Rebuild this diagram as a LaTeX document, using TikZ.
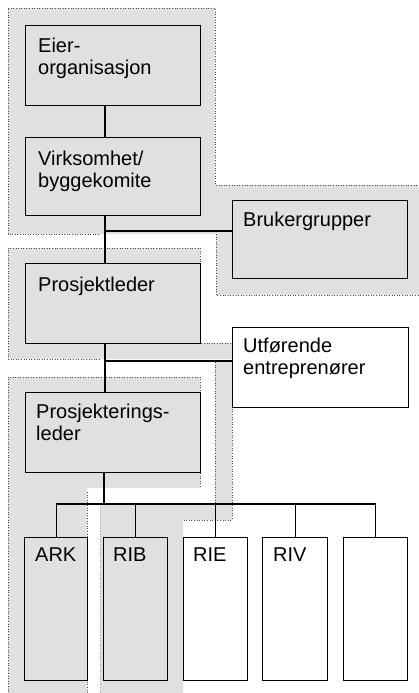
\documentclass[tikz,border=0pt]{standalone}
\usepackage{fontspec}
\setmainfont{Liberation Sans}
\begin{document}
\begin{tikzpicture}[x=1pt,y=-1pt,
  zone/.style={fill=black!12},
  zoneedge/.style={draw=black!70, line width=0.9pt, dash pattern=on 1pt off 1.6pt},
  unit/.style={draw=black, line width=1.3pt, inner sep=0pt, anchor=north west},
  shaded/.style={unit, fill=black!12},
  plain/.style={unit, fill=white},
  lbl/.style={inner sep=0pt, anchor=north west, align=left,
              font=\fontsize{20}{22}\selectfont},
  link/.style={draw=black, line width=1.2pt}]
\useasboundingbox (0,0) rectangle (419,693);
\fill[white] (0,0) rectangle (419,693);
\clip (0,0) rectangle (419,693);

% --- shaded responsibility zones ---
% owner side with user groups
\fill[zone] (8,8) -- (215,8) -- (215,185) -- (425,185) -- (425,295)
  -- (216,295) -- (216,234) -- (8,234) -- cycle;
\draw[zoneedge] (425,185) -- (215,185) -- (215,8) -- (8,8) -- (8,234) -- (100,234);
\draw[zoneedge] (216,234) -- (216,295) -- (425,295);
% project manager
\fill[zone] (8,248) -- (200,248) -- (200,343) -- (232,343) -- (232,359)
  -- (8,359) -- cycle;
\draw[zoneedge] (100,359) -- (8,359) -- (8,248) -- (200,248) -- (200,343) -- (232,343);
% design manager with architect
\fill[zone] (8,377) -- (200,377) -- (200,488) -- (87,488) -- (87,700)
  -- (8,700) -- cycle;
\draw[zoneedge] (8,700) -- (8,377) -- (200,377) -- (200,488);
\draw[zoneedge] (87,492) -- (87,700);
% contractors band down to structural engineer
\fill[zone] (215,362) -- (232,362) -- (232,520) -- (183,520) -- (183,700)
  -- (100,700) -- (100,505) -- (215,505) -- cycle;
\draw[zoneedge] (215,362) -- (215,505);
\draw[zoneedge] (232,362) -- (232,520) -- (183,520);
\draw[draw=black!35, line width=0.9pt, dash pattern=on 1pt off 1.6pt] (100,505) -- (100,700);

% --- units ---
\node[shaded, minimum width=175pt, minimum height=80pt] (eier) at (25,25) {};
\node[shaded, minimum width=175pt, minimum height=78pt] (virk) at (25,137) {};
\node[shaded, minimum width=175pt, minimum height=78pt] (bruk) at (232,200) {};
\node[shaded, minimum width=175pt, minimum height=80pt] (pl) at (25,263) {};
\node[plain,  minimum width=176pt, minimum height=80pt] (utf) at (232,327) {};
\node[shaded, minimum width=175pt, minimum height=80pt] (prl) at (25,392) {};
\node[shaded, minimum width=63pt, minimum height=143pt] (ark) at (24,537) {};
\node[shaded, minimum width=64pt, minimum height=143pt] (rib) at (103,537) {};
\node[plain,  minimum width=64pt, minimum height=143pt] (rie) at (183,537) {};
\node[plain,  minimum width=65pt, minimum height=143pt] (riv) at (262,537) {};
\node[plain,  minimum width=64pt, minimum height=143pt] (tom) at (343,537) {};

% --- labels ---
\node[lbl] (eierT) at ([xshift=13pt,yshift=-13pt]eier.north west) {Eier-\\organisasjon};
\node[lbl] (virkT) at ([xshift=13pt,yshift=-14pt]virk.north west) {Virksomhet/\\byggekomite};
\node[lbl] (brukT) at ([xshift=11pt,yshift=-12pt]bruk.north west) {Brukergrupper};
\node[lbl] (plT) at ([xshift=13pt,yshift=-14pt]pl.north west) {Prosjektleder};
\node[lbl] (utfT) at ([xshift=11pt,yshift=-11pt]utf.north west) {Utførende\\entreprenører};
\node[lbl] (prlT) at ([xshift=11pt,yshift=-12pt]prl.north west) {Prosjekterings-\\leder};
\node[lbl] (arkT) at ([xshift=11pt,yshift=-11pt]ark.north west) {ARK};
\node[lbl] (ribT) at ([xshift=10pt,yshift=-11pt]rib.north west) {RIB};
\node[lbl] (rieT) at ([xshift=10pt,yshift=-11pt]rie.north west) {RIE};
\node[lbl] (rivT) at ([xshift=11pt,yshift=-11pt]riv.north west) {RIV};

% --- connectors ---
\coordinate (trunk) at (105,0);
\coordinate (j1) at (105,231);
\coordinate (j2) at (105,361);
\coordinate (bus) at (104,504);
\draw[link] (eier.south -| trunk) -- (virk.north -| trunk);
\draw[link] (virk.south -| trunk) -- (pl.north -| trunk);
\draw[link] (j1) -- (j1 -| bruk.west);
\draw[link] (pl.south -| trunk) -- (prl.north -| trunk);
\draw[link] (j2) -- (j2 -| utf.west);
\draw[link] (prl.south -| bus) -- (bus);
\draw[link] (ark.north |- bus) -- (tom.north |- bus);
\draw[link] (ark.north |- bus) -- (ark.north);
\draw[link] (rib.north |- bus) -- (rib.north);
\draw[link] (rie.north |- bus) -- (rie.north);
\draw[link] (riv.north |- bus) -- (riv.north);
\draw[link] (tom.north |- bus) -- (tom.north);
\end{tikzpicture}
\end{document}
